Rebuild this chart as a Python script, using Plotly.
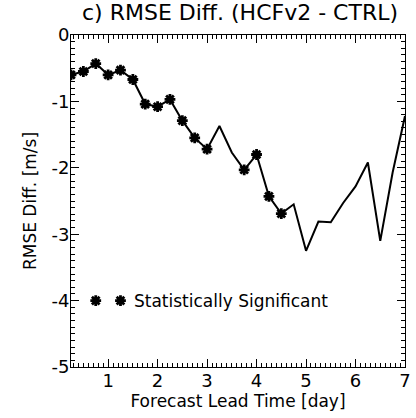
import plotly.graph_objects as go

lead_time = [0.25, 0.5, 0.75, 1.0, 1.25, 1.5, 1.75, 2.0, 2.25, 2.5, 2.75, 3.0, 3.25, 3.5,
             3.75, 4.0, 4.25, 4.5, 4.75, 5.0, 5.25, 5.5, 5.75, 6.0, 6.25, 6.5, 6.75, 7.0]
rmse_diff = [-0.60, -0.55, -0.43, -0.60, -0.53, -0.67, -1.04, -1.08, -0.97, -1.29, -1.55, -1.72,
             -1.37, -1.77, -2.03, -1.80, -2.43, -2.69, -2.55, -3.25, -2.81, -2.82, -2.53, -2.28,
             -1.92, -3.10, -2.07, -1.22]
significant = [True, True, True, True, True, True, True, True, True, True, True, True,
               False, False, True, True, True, True, False, False, False, False, False, False,
               False, False, False, False]
legend_x = [0.75, 1.25]
legend_y = [-4.0, -4.0]
legend_label = "Statistically Significant"
x_ticks = [1, 2, 3, 4, 5, 6, 7]
y_ticks = [0, -1, -2, -3, -4, -5]

sig_x = [x for x, s in zip(lead_time, significant) if s]
sig_y = [y for y, s in zip(rmse_diff, significant) if s]

star = dict(symbol="asterisk-open", size=9, color="black", line=dict(color="black", width=2.8))

fig = go.Figure()
fig.add_trace(go.Scatter(x=lead_time, y=rmse_diff, mode="lines",
                         line=dict(color="black", width=2), showlegend=False))
fig.add_trace(go.Scatter(x=sig_x, y=sig_y, mode="markers", marker=star, showlegend=False))
fig.add_trace(go.Scatter(x=legend_x, y=legend_y, mode="markers", marker=star, showlegend=False))
fig.add_annotation(x=legend_x[-1], y=legend_y[-1], xshift=12, text=legend_label, showarrow=False,
                   xanchor="left", yanchor="middle", font=dict(size=17, color="black"))

font_family = "DejaVu Sans, Liberation Sans, Arial, sans-serif"
fig.update_layout(
    width=416, height=418,
    margin=dict(l=71, r=5, t=35, b=51),
    paper_bgcolor="white", plot_bgcolor="white",
    font=dict(family=font_family, color="black", size=17),
    title=dict(text="c) RMSE Diff. (HCFv2 - CTRL)", x=0.577, xanchor="center",
               xref="container", yref="container", y=0.99, yanchor="top", font=dict(size=22)),
)
fig.update_xaxes(range=[0.25, 7], tickvals=x_ticks, ticktext=[str(t) for t in x_ticks],
                 ticks="inside", ticklen=8, tickwidth=1, tickcolor="black",
                 minor=dict(dtick=0.1, tick0=0, ticks="inside", ticklen=4, tickcolor="black"),
                 showline=True, linecolor="black", linewidth=1, mirror="allticks",
                 showgrid=False, zeroline=False, ticklabelstandoff=-3,
                 ticklabeloverflow="allow",
                 title=dict(text="Forecast Lead Time [day]", font=dict(size=17), standoff=0),
                 tickfont=dict(size=18))
fig.update_yaxes(range=[-5, 0], tickvals=y_ticks, ticktext=[str(t) for t in y_ticks],
                 ticks="inside", ticklen=8, tickwidth=1, tickcolor="black",
                 minor=dict(dtick=0.1, tick0=0, ticks="inside", ticklen=4, tickcolor="black"),
                 showline=True, linecolor="black", linewidth=1, mirror="allticks",
                 showgrid=False, zeroline=False, ticklabeloverflow="allow",
                 ticklabelstandoff=-3,
                 title=dict(text="RMSE Diff. [m/s]", font=dict(size=17), standoff=10),
                 tickfont=dict(size=18))
fig.write_html("out.html", config={"displayModeBar": False},
               post_script="document.body.style.margin='0';document.body.style.overflow='hidden';")
